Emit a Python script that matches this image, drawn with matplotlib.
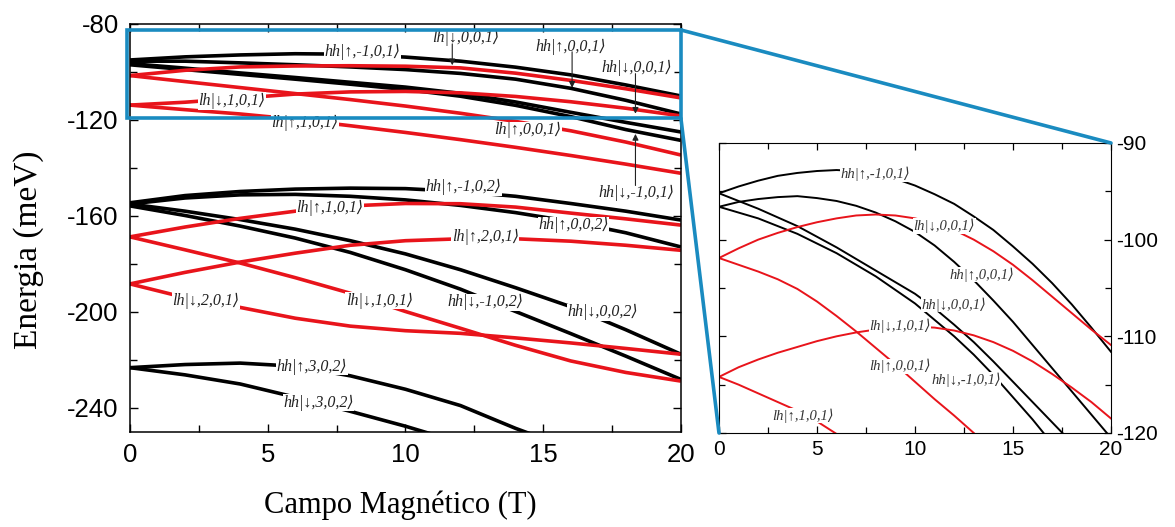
import matplotlib.pyplot as plt
from matplotlib.patches import Rectangle, ConnectionPatch
from matplotlib.ticker import MultipleLocator

# magnetic field grid (T)
B = [0, 2, 4, 6, 8, 10, 12, 14, 16, 18, 20]
# finer grid for the zoomed panel
Bz = list(range(0, 21))

# --- main panel, energies in meV ---
# first group (n = 1)
hh_up_m1_01 = [-95.0, -93.7, -92.9, -92.4, -92.6, -93.8, -95.5, -98.0, -101.2, -105.4, -110.0]
hh_up_0_01 = [-95.5, -95.5, -96.2, -97.0, -97.9, -99.0, -100.6, -103.0, -106.8, -111.8, -117.5]
hh_dn_0_01 = [-96.5, -98.4, -100.4, -102.3, -104.3, -106.3, -108.9, -112.5, -116.8, -121.0, -125.0]
hh_dn_m1_01 = [-97.0, -99.0, -101.0, -103.0, -105.1, -107.3, -110.1, -113.9, -118.6, -124.0, -128.5]
lh_dn_0_01 = [-101.5, -99.3, -97.9, -97.5, -97.4, -97.6, -98.3, -100.5, -103.5, -107.0, -110.8]
lh_dn_1_01 = [-113.8, -112.6, -110.9, -109.2, -108.3, -108.1, -108.7, -110.2, -112.4, -115.1, -118.3]
lh_up_0_01 = [-101.5, -104.0, -106.5, -109.0, -111.5, -114.2, -117.2, -120.6, -124.5, -129.2, -134.6]
lh_up_1_01 = [-113.8, -115.7, -117.5, -119.7, -122.4, -125.2, -128.2, -131.4, -134.8, -138.4, -142.2]

# second group
hh_up_m1_02 = [-154.5, -151.5, -149.8, -148.8, -148.4, -148.6, -149.8, -151.8, -154.8, -158.0, -161.7]
hh_up_0_02 = [-155.0, -152.5, -151.2, -151.0, -151.8, -153.3, -155.6, -158.6, -162.3, -167.0, -172.9]
hh_dn_m1_02 = [-155.8, -159.8, -164.2, -169.2, -175.2, -182.4, -190.5, -199.8, -209.0, -218.4, -228.1]
hh_dn_0_02 = [-155.0, -158.0, -161.5, -165.5, -170.3, -175.8, -182.4, -189.9, -197.8, -207.4, -217.6]
lh_up_1_01b = [-168.7, -164.6, -161.0, -158.0, -155.8, -154.8, -154.9, -156.3, -158.8, -161.2, -163.8]
lh_dn_1_01b = [-168.7, -174.1, -179.6, -185.7, -192.2, -199.8, -206.8, -213.9, -220.4, -225.2, -228.8]
lh_up_2_01 = [-188.3, -183.5, -179.2, -175.5, -172.2, -170.3, -169.5, -169.5, -170.5, -172.2, -174.3]
lh_dn_2_01 = [-188.3, -194.0, -198.1, -202.6, -205.9, -207.8, -208.9, -210.8, -212.9, -215.2, -217.6]

# third group
hh_up_3_02 = [-223.2, -221.9, -221.3, -222.6, -226.6, -232.2, -239.0, -248.5, -257.0]
hh_dn_3_02 = [-223.2, -226.2, -230.0, -235.5, -241.4, -247.6, -254.5]

main_black = [hh_up_m1_01, hh_up_0_01, hh_dn_0_01, hh_dn_m1_01,
              hh_up_m1_02, hh_up_0_02, hh_dn_m1_02, hh_dn_0_02,
              hh_up_3_02, hh_dn_3_02]
main_red = [lh_dn_0_01, lh_dn_1_01, lh_up_0_01, lh_up_1_01,
            lh_up_1_01b, lh_dn_1_01b, lh_up_2_01, lh_dn_2_01]

# --- zoomed panel (1 T steps) ---
z_hh_up_m1 = [-95.2, -94.5, -93.9, -93.4, -93.1, -92.9, -92.8, -92.9, -93.2, -93.7, -94.4,
              -95.3, -96.3, -97.6, -99.0, -100.7, -102.5, -104.5, -106.7, -109.1, -111.6]
z_hh_up_0 = [-96.6, -96.1, -95.8, -95.6, -95.5, -95.7, -96.0, -96.5, -97.2, -98.1, -99.2,
             -100.6, -102.3, -104.2, -106.3, -108.5, -110.9, -113.3, -115.7, -118.1, -120.5]
z_hh_dn_0 = [-95.2, -96.0, -96.8, -97.7, -98.6, -99.7, -100.8, -102.0, -103.2, -104.4, -105.6,
             -107.1, -108.8, -110.6, -112.6, -114.7, -116.8, -118.9, -121.0]
z_hh_dn_m1 = [-96.6, -97.2, -97.8, -98.6, -99.4, -100.4, -101.4, -102.6, -103.8, -105.2, -106.6,
              -108.3, -110.0, -111.9, -114.0, -116.3, -118.6, -121.1]
z_lh_dn_0 = [-101.9, -100.9, -100.0, -99.3, -98.7, -98.2, -97.8, -97.5, -97.4, -97.5, -97.8,
             -98.3, -99.0, -100.0, -101.2, -102.6, -104.2, -105.9, -107.6, -109.3, -110.9]
z_lh_up_0 = [-101.9, -102.6, -103.3, -104.1, -105.1, -106.4, -107.9, -109.5, -111.2, -112.9, -114.7,
             -116.5, -118.2, -120.0]
z_lh_dn_1 = [-114.2, -113.2, -112.4, -111.7, -111.1, -110.5, -110.0, -109.6, -109.3, -109.1, -109.0,
             -109.1, -109.4, -109.9, -110.6, -111.5, -112.6, -113.9, -115.3, -116.8, -118.5]
z_lh_up_1 = [-114.2, -115.0, -115.9, -116.8, -117.7, -118.8, -120.1]

zoom_black = [z_hh_up_m1, z_hh_up_0, z_hh_dn_0, z_hh_dn_m1]
zoom_red = [z_lh_dn_0, z_lh_up_0, z_lh_dn_1, z_lh_up_1]

# state labels: (text, x, E)
main_labels = [
    ("hh|↑,-1,0,1⟩", 8.45, -91.5),
    ("lh|↓,0,0,1⟩", 12.2, -86.0),
    ("hh|↑,0,0,1⟩", 16.0, -89.4),
    ("hh|↓,0,0,1⟩", 18.4, -98.5),
    ("hh|↓,-1,0,1⟩", 18.4, -150.2),
    ("lh|↓,1,0,1⟩", 3.7, -112.1),
    ("lh|↑,1,0,1⟩", 6.35, -121.4),
    ("lh|↑,0,0,1⟩", 14.45, -124.2),
    ("hh|↑,-1,0,2⟩", 12.1, -148.0),
    ("lh|↑,1,0,1⟩", 7.25, -156.8),
    ("hh|↑,0,0,2⟩", 16.1, -163.8),
    ("lh|↑,2,0,1⟩", 12.9, -168.7),
    ("lh|↓,2,0,1⟩", 2.75, -195.2),
    ("lh|↓,1,0,1⟩", 9.05, -195.2),
    ("hh|↓,-1,0,2⟩", 12.9, -196.0),
    ("hh|↓,0,0,2⟩", 17.15, -200.1),
    ("hh|↑,3,0,2⟩", 6.6, -222.8),
    ("hh|↓,3,0,2⟩", 6.85, -237.9),
]
# pointer arrows: (x, E start, E tip)
main_arrows = [
    (11.7, -88.3, -97.2),
    (16.05, -91.6, -106.6),
    (18.35, -100.7, -117.4),
    (18.35, -147.3, -125.8),
]
zoom_labels = [
    ("hh|↑,-1,0,1⟩", 7.96, -93.2),
    ("lh|↓,0,0,1⟩", 11.5, -98.6),
    ("hh|↑,0,0,1⟩", 13.4, -103.6),
    ("hh|↓,0,0,1⟩", 12.0, -106.7),
    ("lh|↓,1,0,1⟩", 9.23, -108.9),
    ("lh|↑,0,0,1⟩", 9.23, -113.1),
    ("hh|↓,-1,0,1⟩", 12.6, -114.5),
    ("lh|↑,1,0,1⟩", 4.3, -118.2),
]

RED = "#E8141B"
BLUE = "#1A8BC0"
label_font = ["Liberation Serif", "DejaVu Serif", "DejaVu Sans"]

plt.rcParams["font.family"] = ["Liberation Sans", "DejaVu Sans"]
plt.rcParams["axes.unicode_minus"] = False

fig = plt.figure(figsize=(11.75, 5.27), dpi=100)
ax = fig.add_axes([0.1106, 0.1803, 0.4689, 0.7742])
ax2 = fig.add_axes([0.6119, 0.1784, 0.3336, 0.5503])

for E in main_black:
    ax.plot(B[:len(E)], E, color="black", lw=2.6, solid_capstyle="butt", zorder=2)
for E in main_red:
    ax.plot(B[:len(E)], E, color=RED, lw=2.6, solid_capstyle="butt", zorder=2)

for txt, x, y in main_labels:
    ax.text(x, y, txt, ha="center", va="center", fontsize=11.5, style="italic",
            family=label_font, color="#222222", zorder=4,
            bbox=dict(facecolor="white", edgecolor="none", pad=0.4))
for x, y0, y1 in main_arrows:
    ax.annotate("", xy=(x, y1), xytext=(x, y0),
                arrowprops=dict(arrowstyle="-|>", color="#222222", lw=0.8,
                                mutation_scale=9, shrinkA=0, shrinkB=0), zorder=4)

ax.set_xlim(0, 20)
ax.set_ylim(-250, -80)
ax.xaxis.set_major_locator(MultipleLocator(5))
ax.xaxis.set_minor_locator(MultipleLocator(2.5))
ax.yaxis.set_minor_locator(MultipleLocator(20))
ax.set_yticks([-80, -120, -160, -200, -240])
ax.tick_params(which="both", direction="in", top=True, right=True, width=1)
ax.tick_params(which="major", length=6, labelsize=18.5)
ax.tick_params(which="minor", length=5)
ax.tick_params(axis="x", pad=8)
ax.tick_params(axis="y", pad=8)
for s in ax.spines.values():
    s.set_linewidth(1.1)

# zoom window on the first group
ax.add_patch(Rectangle((-0.1, -119.3), 20.1, 36.8, fill=False, ec=BLUE, lw=2.6,
                       clip_on=False, zorder=6))

for E in zoom_black:
    ax2.plot(Bz[:len(E)], E, color="black", lw=1.4, zorder=2)
for E in zoom_red:
    ax2.plot(Bz[:len(E)], E, color=RED, lw=1.4, zorder=2)
for txt, x, y in zoom_labels:
    ax2.text(x, y, txt, ha="center", va="center", fontsize=10.5, style="italic",
             family=label_font, color="#333333", zorder=4,
             bbox=dict(facecolor="white", edgecolor="none", pad=0.3))

ax2.set_xlim(0, 20)
ax2.set_ylim(-120, -90)
ax2.xaxis.set_major_locator(MultipleLocator(5))
ax2.xaxis.set_minor_locator(MultipleLocator(2.5))
ax2.yaxis.set_major_locator(MultipleLocator(10))
ax2.yaxis.set_minor_locator(MultipleLocator(5))
ax2.tick_params(which="both", direction="in", top=True, right=True, left=True,
                labelleft=False, labelright=True, width=0.9)
ax2.tick_params(which="major", length=5, labelsize=15)
ax2.tick_params(which="minor", length=4)
ax2.tick_params(axis="x", pad=5)
ax2.tick_params(axis="y", pad=4)

for xyA, xyB in [((20, -82.5), (20, -90)), ((20, -119.3), (0, -120))]:
    con = ConnectionPatch(xyA=xyA, coordsA=ax.transData, xyB=xyB, coordsB=ax2.transData,
                          color=BLUE, lw=2.6, zorder=6)
    fig.add_artist(con)

fig.text(0.024, 0.526, "Energia (meV)", rotation=90, ha="center", va="center",
         fontsize=24, family=["Liberation Serif", "DejaVu Serif"])
fig.text(0.341, 0.042, "Campo Magnético (T)", ha="center", va="center",
         fontsize=22, family=["Liberation Serif", "DejaVu Serif"])

fig.savefig("out.png", dpi=100, facecolor="white")
